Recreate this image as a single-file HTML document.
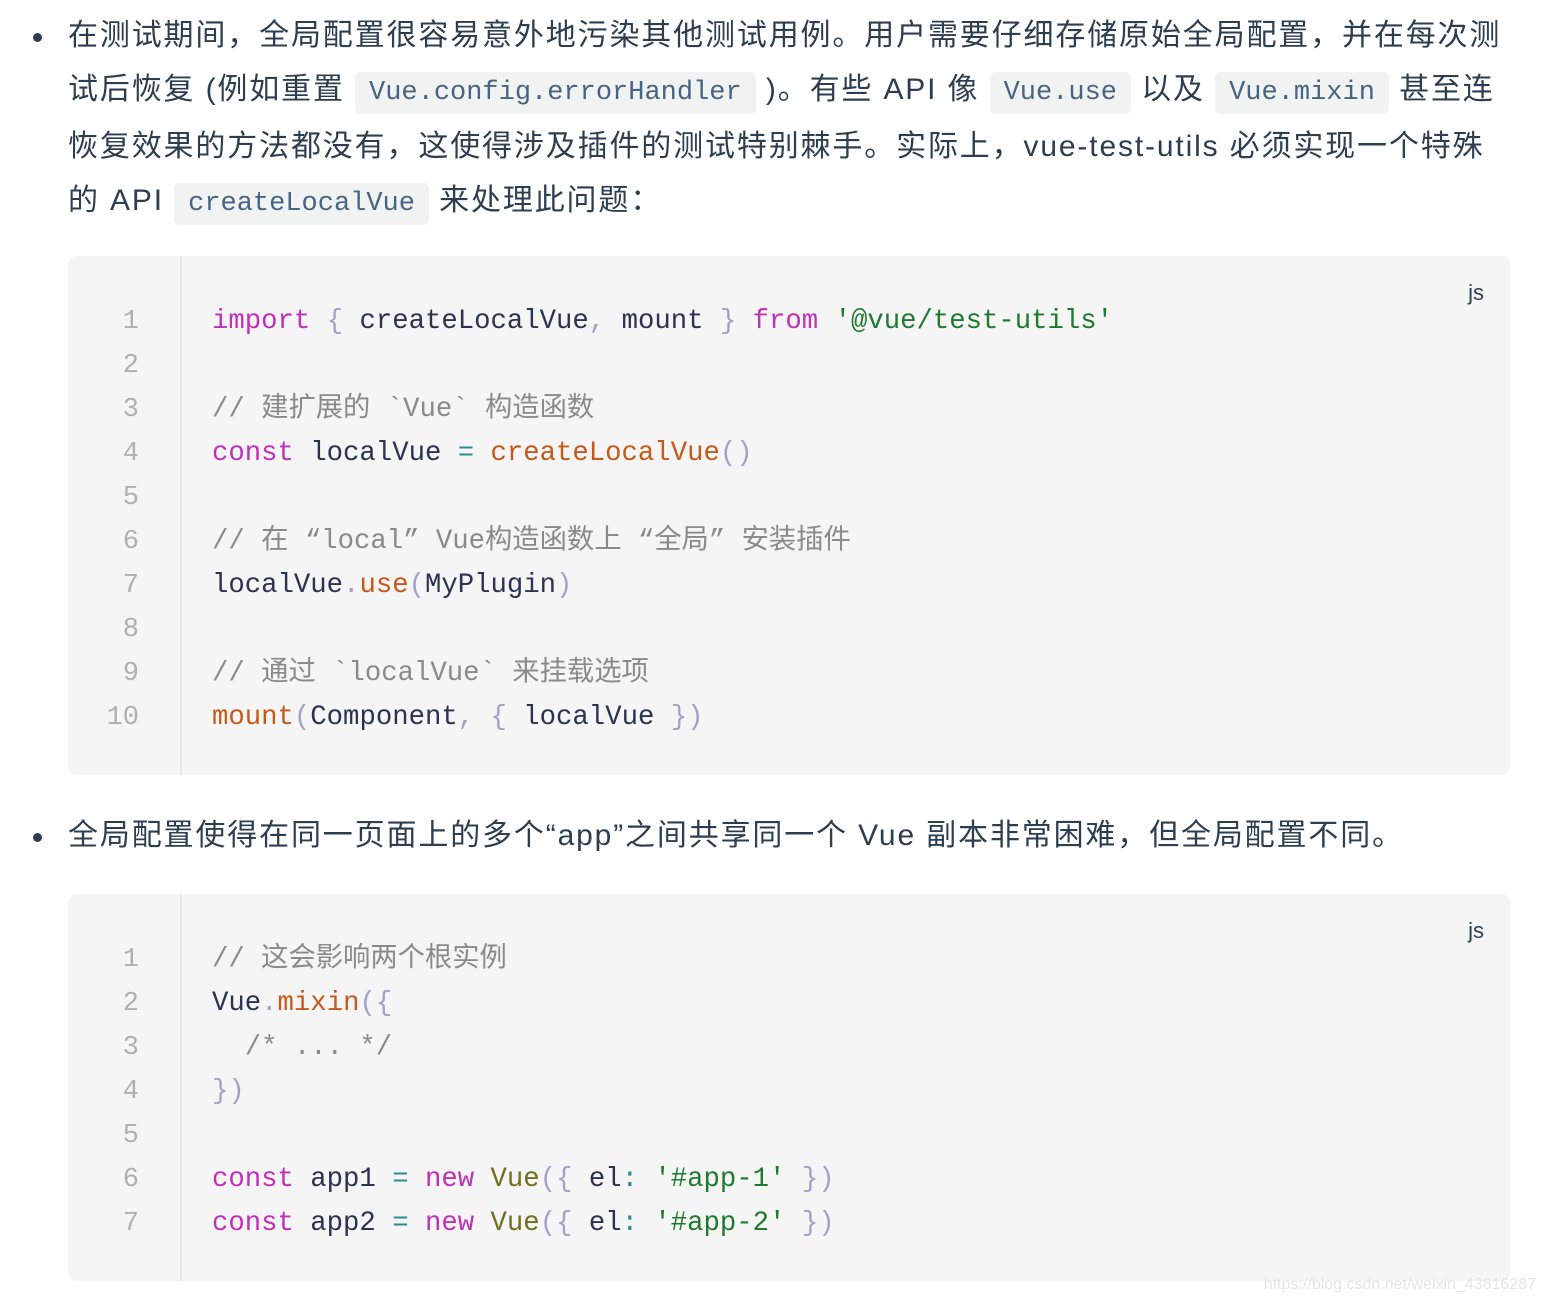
<!DOCTYPE html>
<html><head><meta charset="utf-8"><style>
body{margin:0;width:1546px;height:1304px;background:#fff;position:relative;overflow:hidden;font-family:"Liberation Sans","Noto Sans CJK SC",sans-serif;color:#2c3e50}
.p{position:absolute;left:68px;font-size:30px;line-height:54px;white-space:nowrap;letter-spacing:1.85px}
.dot{position:absolute;left:33px;width:9px;height:9px;border-radius:50%;background:#2c3e50}
code{font-family:"Liberation Mono","Noto Sans CJK SC",monospace;font-size:27px;color:#476582;background:#f1f3f3;border-radius:5px;padding:6px 14px;letter-spacing:0}
.blk{position:absolute;left:68px;width:1442px;background:#f5f5f5;border-radius:8px}
.gut{position:absolute;left:112px;top:0;bottom:0;width:2px;background:#e6e6e6}
.ln{position:absolute;left:0;width:71px;text-align:right;font-family:"Liberation Mono",monospace;font-size:27px;color:#b0b0b0;line-height:44px}
.cd{position:absolute;left:144px;font-family:"Liberation Mono","Noto Sans CJK SC",monospace;font-size:27.3px;line-height:44px;color:#2c3350;white-space:pre}
.js{position:absolute;right:26px;font-size:22px;color:#2c3e50}
.k{color:#c030b8}.f{color:#c55a1c}.s{color:#1f7a30}.c{color:#8a8a8a}.u{color:#a0a2cc}.o{color:#2a8c8c}.v{color:#707020}
</style></head><body>
<div class="dot" style="top:33px"></div>
<div class="p" style="top:9px">在测试期间，全局配置很容易意外地污染其他测试用例。用户需要仔细存储原始全局配置，并在每次测<br>试后恢复 (例如重置 <code>Vue.config.errorHandler</code> )。有些 API 像 <code>Vue.use</code> 以及 <code>Vue.mixin</code> 甚至连<br>恢复效果的方法都没有，这使得涉及插件的测试特别棘手。实际上，vue-test-utils 必须实现一个特殊<br>的 API <code>createLocalVue</code> 来处理此问题：</div>
<div class="blk" style="top:256px;height:519px">
<div class="gut"></div><div class="js" style="top:24px">js</div>
<div class="ln" style="top:44px">1<br>2<br>3<br>4<br>5<br>6<br>7<br>8<br>9<br>10</div>
<div class="cd" style="top:44px"><span class="k">import</span> <span class="u">{</span> createLocalVue<span class="u">,</span> mount <span class="u">}</span> <span class="k">from</span> <span class="s">'@vue/test-utils'</span>

<span class="c">// 建扩展的 `Vue` 构造函数</span>
<span class="k">const</span> localVue <span class="o">=</span> <span class="f">createLocalVue</span><span class="u">()</span>

<span class="c">// 在 “local” Vue构造函数上 “全局” 安装插件</span>
localVue<span class="u">.</span><span class="f">use</span><span class="u">(</span>MyPlugin<span class="u">)</span>

<span class="c">// 通过 `localVue` 来挂载选项</span>
<span class="f">mount</span><span class="u">(</span>Component<span class="u">,</span> <span class="u">{</span> localVue <span class="u">})</span></div>
</div>
<div class="dot" style="top:833px"></div>
<div class="p" style="top:809px">全局配置使得在同一页面上的多个“app”之间共享同一个 Vue 副本非常困难，但全局配置不同。</div>
<div class="blk" style="top:894px;height:387px">
<div class="gut"></div><div class="js" style="top:24px">js</div>
<div class="ln" style="top:44px">1<br>2<br>3<br>4<br>5<br>6<br>7</div>
<div class="cd" style="top:44px"><span class="c">// 这会影响两个根实例</span>
Vue<span class="u">.</span><span class="f">mixin</span><span class="u">({</span>
  <span class="c">/* ... */</span>
<span class="u">})</span>

<span class="k">const</span> app1 <span class="o">=</span> <span class="k">new</span> <span class="v">Vue</span><span class="u">({</span> el<span class="o">:</span> <span class="s">'#app-1'</span> <span class="u">})</span>
<span class="k">const</span> app2 <span class="o">=</span> <span class="k">new</span> <span class="v">Vue</span><span class="u">({</span> el<span class="o">:</span> <span class="s">'#app-2'</span> <span class="u">})</span></div>
</div>
<div style="position:absolute;right:10px;top:1276px;font-size:16px;color:#e4e4e4">https://blog.csdn.net/weixin_43816287</div>
</body></html>
